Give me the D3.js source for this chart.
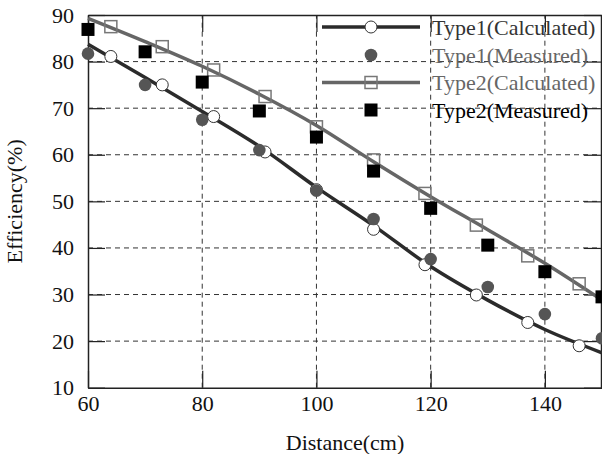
<!DOCTYPE html>
<html>
<head>
<meta charset="utf-8">
<script src="https://cdn.jsdelivr.net/npm/d3@7"></script>
<style>
  html, body { margin: 0; padding: 0; background: #fff; }
  svg { display: block; font-family: "Liberation Serif", "Times New Roman", serif; }
  svg text { font-family: "Liberation Serif", "Times New Roman", serif; }
</style>
</head>
<body>
<main></main>
<script>
// distances (cm) for measured points and for the calculated markers
const measuredX = [60, 70, 80, 90, 100, 110, 120, 130, 140, 150];
const calcX = [64, 73, 82, 91, 100, 110, 119, 128, 137, 146];
const curveX = [60, 70, 80, 90, 100, 110, 120, 130, 140, 150];

// efficiency (%)
const type1Measured = [81.7, 75.0, 67.5, 61.0, 52.3, 46.2, 37.6, 31.6, 25.8, 20.6];
const type1CalcMarks = [81.1, 75.0, 68.2, 60.6, 52.5, 44.0, 36.4, 29.9, 24.0, 19.0];
const type1Curve = [83.7, 76.6, 69.3, 61.8, 53.0, 44.8, 36.0, 28.8, 22.5, 17.5];

const type2Measured = [86.9, 82.1, 75.6, 69.4, 63.8, 56.5, 48.5, 40.6, 34.9, 29.5];
const type2CalcMarks = [87.5, 83.2, 78.2, 72.5, 66.0, 58.9, 51.7, 44.9, 38.3, 32.3];
const type2Curve = [89.3, 84.3, 79.0, 73.0, 66.3, 58.5, 51.0, 43.9, 36.7, 28.8];

const xTicks = [60, 80, 100, 120, 140];
const yTicks = [10, 20, 30, 40, 50, 60, 70, 80, 90];
const legendLabels = ["Type1(Calculated)", "Type1(Measured)", "Type2(Calculated)", "Type2(Measured)"];

const w = 602,
  h = 454,
  margin = {top: 15, right: 0, bottom: 66.3, left: 88},
  fs = 22,
  serif = '"Liberation Serif", "Times New Roman", serif';

const svg = d3.select("main")
  .append("svg")
  .attr("width", w)
  .attr("height", h);

const xScale = d3.scaleLinear()
  .domain([60, 150])
  .range([margin.left, w - margin.right]);
const yScale = d3.scaleLinear()
  .domain([10, 90])
  .range([h - margin.bottom, margin.top]);

// dashed grid
const grid = svg.append("g")
  .attr("stroke", "#333")
  .attr("stroke-width", 1)
  .attr("stroke-dasharray", "5,4");
grid.selectAll("line.h")
  .data(yTicks.filter(d => d > 10 && d < 90))
  .enter()
  .append("line")
  .attr("class", "h")
  .attr("x1", xScale(60))
  .attr("x2", xScale(150))
  .attr("y1", d => yScale(d))
  .attr("y2", d => yScale(d));
grid.selectAll("line.v")
  .data(xTicks.filter(d => d > 60))
  .enter()
  .append("line")
  .attr("class", "v")
  .attr("x1", d => xScale(d))
  .attr("x2", d => xScale(d))
  .attr("y1", yScale(10))
  .attr("y2", yScale(90));

// axes with inward ticks
function styleAxis(g) {
  g.attr("font-family", serif).attr("font-size", fs);
  g.select(".domain").attr("stroke", "#222").attr("stroke-width", 1.5);
  g.selectAll(".tick line").attr("stroke", "#222").attr("stroke-width", 1.2);
  g.selectAll("text")
    .attr("fill", "#111")
    .attr("font-family", serif)
    .attr("font-size", fs);
}

svg.append("g")
  .attr("transform", "translate(0," + yScale(10) + ")")
  .call(d3.axisBottom(xScale).tickValues(xTicks).tickSize(-17).tickSizeOuter(0).tickPadding(8))
  .call(styleAxis);
svg.append("g")
  .attr("transform", "translate(" + xScale(60) + ",0)")
  .call(d3.axisLeft(yScale).tickValues(yTicks).tickSize(-17).tickSizeOuter(0).tickPadding(14))
  .call(styleAxis);
svg.append("g")
  .attr("transform", "translate(0," + yScale(90) + ")")
  .call(d3.axisTop(xScale).tickValues(xTicks).tickSize(-17).tickSizeOuter(0).tickFormat(""))
  .call(styleAxis);
svg.append("g")
  .attr("transform", "translate(" + (xScale(150) - 1) + ",0)")
  .call(d3.axisRight(yScale).tickValues(yTicks).tickSize(-17).tickSizeOuter(0).tickFormat(""))
  .call(styleAxis);

// calculated curves
const line = d3.line()
  .x(d => xScale(d[0]))
  .y(d => yScale(d[1]))
  .curve(d3.curveMonotoneX);

svg.append("path")
  .datum(d3.zip(curveX, type2Curve))
  .attr("fill", "none")
  .attr("stroke", "#666")
  .attr("stroke-width", 3.5)
  .attr("d", line);
svg.append("path")
  .datum(d3.zip(curveX, type1Curve))
  .attr("fill", "none")
  .attr("stroke", "#2b2b2b")
  .attr("stroke-width", 3.5)
  .attr("d", line);

// calculated markers
svg.selectAll("rect.t2c")
  .data(d3.zip(calcX, type2CalcMarks))
  .enter()
  .append("rect")
  .attr("class", "t2c")
  .attr("x", d => xScale(d[0]) - 6)
  .attr("y", d => yScale(d[1]) - 6)
  .attr("width", 12)
  .attr("height", 12)
  .attr("fill", "none")
  .attr("stroke", "#777")
  .attr("stroke-width", 1.5);
svg.selectAll("circle.t1c")
  .data(d3.zip(calcX, type1CalcMarks))
  .enter()
  .append("circle")
  .attr("class", "t1c")
  .attr("cx", d => xScale(d[0]))
  .attr("cy", d => yScale(d[1]))
  .attr("r", 6)
  .attr("fill", "#fff")
  .attr("stroke", "#333")
  .attr("stroke-width", 1);

// measured markers
svg.selectAll("circle.t1m")
  .data(d3.zip(measuredX, type1Measured))
  .enter()
  .append("circle")
  .attr("class", "t1m")
  .attr("cx", d => xScale(d[0]))
  .attr("cy", d => yScale(d[1]))
  .attr("r", 6.3)
  .attr("fill", "#555");
svg.selectAll("rect.t2m")
  .data(d3.zip(measuredX, type2Measured))
  .enter()
  .append("rect")
  .attr("class", "t2m")
  .attr("x", d => xScale(d[0]) - 6.5)
  .attr("y", d => yScale(d[1]) - 6.5)
  .attr("width", 13)
  .attr("height", 13)
  .attr("fill", "#000");

// legend
const legY = [27, 55, 82.5, 110],
  legX0 = 322, legX1 = 420, legM = 371, legT = 432;
const legColors = ["#333", "#666", "#666", "#000"];
const leg = svg.append("g");
leg.append("line").attr("x1", legX0).attr("x2", legX1).attr("y1", legY[0]).attr("y2", legY[0])
  .attr("stroke", "#2b2b2b").attr("stroke-width", 3.5);
leg.append("circle").attr("cx", legM).attr("cy", legY[0]).attr("r", 6)
  .attr("fill", "#fff").attr("stroke", "#333");
leg.append("circle").attr("cx", legM).attr("cy", legY[1]).attr("r", 6.3).attr("fill", "#555");
leg.append("line").attr("x1", legX0).attr("x2", legX1).attr("y1", legY[2]).attr("y2", legY[2])
  .attr("stroke", "#666").attr("stroke-width", 3.5);
leg.append("rect").attr("x", legM - 6).attr("y", legY[2] - 6).attr("width", 12).attr("height", 12)
  .attr("fill", "none").attr("stroke", "#777").attr("stroke-width", 1.5);
leg.append("rect").attr("x", legM - 6.5).attr("y", legY[3] - 6.5).attr("width", 13).attr("height", 13)
  .attr("fill", "#000");
leg.selectAll("text")
  .data(legendLabels)
  .enter()
  .append("text")
  .attr("x", legT)
  .attr("y", (d, i) => legY[i])
  .attr("dy", "0.35em")
  .attr("fill", (d, i) => legColors[i])
  .attr("font-family", serif)
  .attr("font-size", fs)
  .text(d => d);

// axis titles
svg.append("text")
  .attr("x", (xScale(60) + xScale(150)) / 2)
  .attr("y", 450)
  .attr("text-anchor", "middle")
  .attr("fill", "#111")
  .attr("font-family", serif)
  .attr("font-size", fs)
  .text("Distance(cm)");
svg.append("text")
  .attr("transform", "rotate(-90)")
  .attr("x", -(yScale(10) + yScale(90)) / 2)
  .attr("y", 22)
  .attr("text-anchor", "middle")
  .attr("fill", "#111")
  .attr("font-family", serif)
  .attr("font-size", fs)
  .text("Efficiency(%)");
</script>
</body>
</html>
